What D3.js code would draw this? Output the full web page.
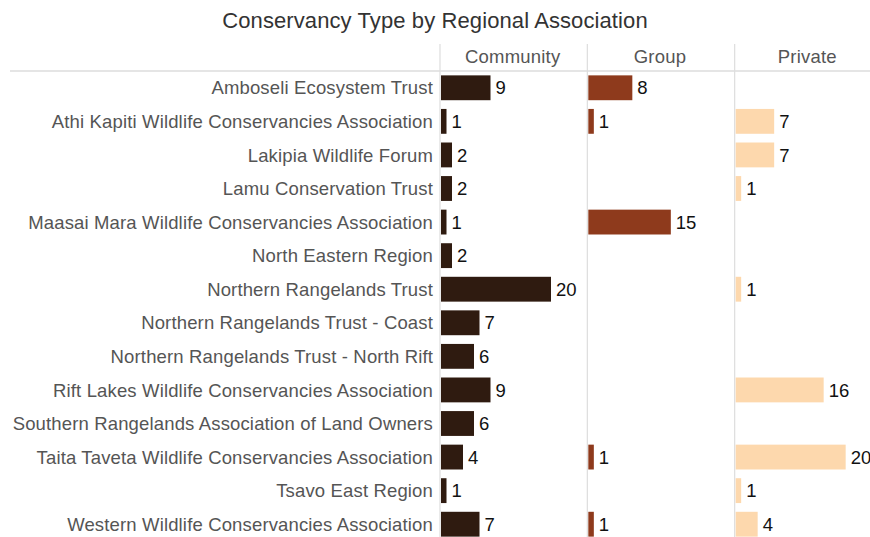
<!DOCTYPE html>
<html>
<head>
<meta charset="utf-8">
<script src="https://cdn.jsdelivr.net/npm/d3@7"></script>
<style>
body { margin: 0; background: #fff; }
text { font-family: "Liberation Sans", Arial, sans-serif; }
</style>
</head>
<body>
<svg width="870" height="537"></svg>
<script>
var associations = [
	"Amboseli Ecosystem Trust",
	"Athi Kapiti Wildlife Conservancies Association",
	"Lakipia Wildlife Forum",
	"Lamu Conservation Trust",
	"Maasai Mara Wildlife Conservancies Association",
	"North Eastern Region",
	"Northern Rangelands Trust",
	"Northern Rangelands Trust - Coast",
	"Northern Rangelands Trust - North Rift",
	"Rift Lakes Wildlife Conservancies Association",
	"Southern Rangelands Association of Land Owners",
	"Taita Taveta Wildlife Conservancies Association",
	"Tsavo East Region",
	"Western Wildlife Conservancies Association"
];
var types = ["Community", "Group", "Private"];
var community = [9, 1, 2, 2, 1, 2, 20, 7, 6, 9, 6, 4, 1, 7];
var group     = [8, 1, 0, 0, 15, 0, 0, 0, 0, 0, 0, 1, 0, 1];
var privat    = [0, 7, 7, 1, 0, 0, 1, 0, 0, 16, 0, 20, 1, 4];
var colors = ["#2f1b10", "#8e3a1c", "#fdd8ad"];

var series = [community, group, privat];

var svg = d3.select("svg");

svg.append("text")
	.attr("x", 435).attr("y", 28)
	.attr("text-anchor", "middle")
	.style("font-size", "22px")
	.style("letter-spacing", "0.1px")
	.style("fill", "#333")
	.text("Conservancy Type by Regional Association");

// columns
var col = d3.scaleBand().domain(types).range([440, 882]);
var x = d3.scaleLinear().domain([0, 20]).range([0, 110]);
var y = d3.scaleBand().domain(associations).range([71, 541]).paddingInner(0.26).paddingOuter(0.13);

// header line
svg.append("line")
	.attr("x1", 10).attr("x2", 870)
	.attr("y1", 71).attr("y2", 71)
	.style("stroke", "#ddd").style("stroke-width", 1.5);

types.forEach(function(t, i){
	svg.append("line")
		.attr("x1", col(t)).attr("x2", col(t))
		.attr("y1", 44).attr("y2", 537)
		.style("stroke", "#ddd").style("stroke-width", 1.2);

	svg.append("text")
		.attr("x", col(t) + col.bandwidth() / 2 - 1)
		.attr("y", 63)
		.attr("text-anchor", "middle")
		.style("font-size", "18.5px")
		.style("letter-spacing", "0.2px")
		.style("fill", "#555")
		.text(t);

	var g = svg.append("g").attr("transform", "translate(" + (col(t) + 1) + ",0)");
	var data = associations.map(function(a, j){ return {a: a, v: series[i][j]}; })
		.filter(function(d){ return d.v > 0; });

	g.selectAll("rect")
		.data(data)
		.enter()
		.append("rect")
		.attr("x", 0)
		.attr("y", d => y(d.a))
		.attr("width", d => Math.max(x(d.v), 4))
		.attr("height", y.bandwidth())
		.style("fill", colors[i]);

	g.selectAll("text")
		.data(data)
		.enter()
		.append("text")
		.attr("x", d => Math.max(x(d.v), 4) + 5)
		.attr("y", d => y(d.a) + y.bandwidth() / 2)
		.attr("dy", "0.36em")
		.style("font-size", "18.5px")
		.style("fill", "#111")
		.text(d => d.v);
});

svg.selectAll(".lab")
	.data(associations)
	.enter()
	.append("text")
	.attr("class", "lab")
	.attr("x", 433)
	.attr("y", d => y(d) + y.bandwidth() / 2)
	.attr("dy", "0.36em")
	.attr("text-anchor", "end")
	.style("font-size", "18.5px")
	.style("letter-spacing", "0.15px")
	.style("fill", "#555")
	.text(d => d);
</script>
</body>
</html>
